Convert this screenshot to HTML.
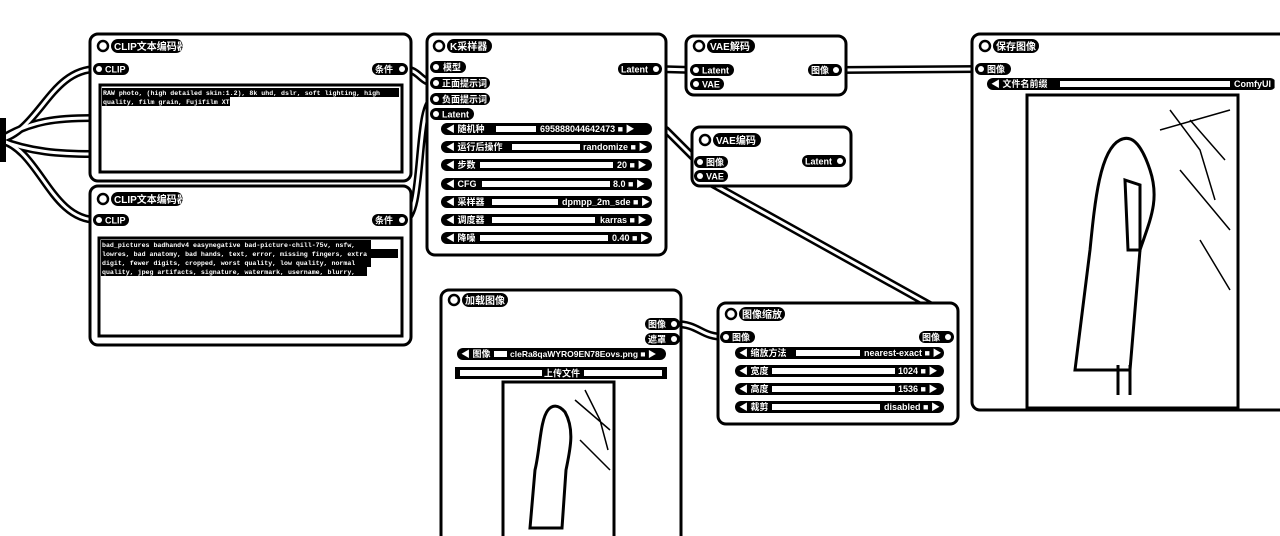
<!DOCTYPE html>
<html><head><meta charset="utf-8"><style>
html,body{margin:0;padding:0;background:#fff;width:1280px;height:536px;overflow:hidden}
svg{display:block}
text{font-family:"Liberation Sans","Noto Sans CJK SC",sans-serif;font-weight:bold}
</style></head><body>
<svg width="1280" height="536" viewBox="0 0 1280 536" xmlns="http://www.w3.org/2000/svg">
<!-- links -->
<g fill="none" stroke-linecap="round">
<g stroke="#000" stroke-width="8">
<path d="M0 140 C40 130,50 69,97 69"/>
<path d="M0 140 C40 150,50 220,97 220"/>
<path d="M0 140 C30 120,60 118,92 118"/>
<path d="M0 140 C30 152,60 154,92 154"/>
<path d="M403 69 C420 69,420 83,435 83"/>
<path d="M403 220 C425 220,415 99,435 99"/>
<path d="M657 69 L693 70"/>
<path d="M838 70 L980 69"/>
<path d="M675 324 C700 324,700 337,725 337"/>
<path d="M698 176 L930 305 C955 315,958 325,952 340"/>
<path d="M666 130 L698 162"/>
</g>
<g stroke="#fff" stroke-width="3">
<path d="M0 140 C40 130,50 69,97 69"/>
<path d="M0 140 C40 150,50 220,97 220"/>
<path d="M0 140 C30 120,60 118,92 118"/>
<path d="M0 140 C30 152,60 154,92 154"/>
<path d="M403 69 C420 69,420 83,435 83"/>
<path d="M403 220 C425 220,415 99,435 99"/>
<path d="M657 69 L693 70"/>
<path d="M838 70 L980 69"/>
<path d="M675 324 C700 324,700 337,725 337"/>
<path d="M698 176 L930 305 C955 315,958 325,952 340"/>
<path d="M666 130 L698 162"/>
</g>
</g>
<rect x="0" y="118" width="6" height="44" fill="#000"/>

<!-- nodes -->
<g fill="#fff" stroke="#000" stroke-width="3">
<rect x="90" y="34" width="321" height="147" rx="8"/>
<rect x="90" y="186" width="321" height="159" rx="8"/>
<rect x="427" y="34" width="239" height="221" rx="8"/>
<rect x="686" y="36" width="160" height="59" rx="8"/>
<rect x="692" y="127" width="159" height="59" rx="8"/>
<rect x="441" y="290" width="240" height="260" rx="8"/>
<rect x="718" y="303" width="240" height="121" rx="8"/>
<rect x="972" y="34" width="320" height="376" rx="8"/>
</g>

<g font-size="9" fill="#fff">
<g font-size="10">
<circle cx="103" cy="46" r="5" fill="#fff" stroke="#000" stroke-width="2.5"/><rect x="111" y="39" width="72" height="14" rx="7" fill="#000"/><text x="114" y="50">CLIP文本编码器</text>
<circle cx="103" cy="199" r="5" fill="#fff" stroke="#000" stroke-width="2.5"/><rect x="111" y="192" width="72" height="14" rx="7" fill="#000"/><text x="114" y="203">CLIP文本编码器</text>
<circle cx="439" cy="46" r="5" fill="#fff" stroke="#000" stroke-width="2.5"/><rect x="447" y="39" width="45" height="14" rx="7" fill="#000"/><text x="450" y="50">K采样器</text>
<circle cx="699" cy="46" r="5" fill="#fff" stroke="#000" stroke-width="2.5"/><rect x="707" y="39" width="48" height="14" rx="7" fill="#000"/><text x="710" y="50">VAE解码</text>
<circle cx="705" cy="140" r="5" fill="#fff" stroke="#000" stroke-width="2.5"/><rect x="713" y="133" width="48" height="14" rx="7" fill="#000"/><text x="716" y="144">VAE编码</text>
<circle cx="454" cy="300" r="5" fill="#fff" stroke="#000" stroke-width="2.5"/><rect x="462" y="293" width="46" height="14" rx="7" fill="#000"/><text x="465" y="304">加载图像</text>
<circle cx="731" cy="314" r="5" fill="#fff" stroke="#000" stroke-width="2.5"/><rect x="739" y="307" width="46" height="14" rx="7" fill="#000"/><text x="742" y="318">图像缩放</text>
<circle cx="985" cy="46" r="5" fill="#fff" stroke="#000" stroke-width="2.5"/><rect x="993" y="39" width="46" height="14" rx="7" fill="#000"/><text x="996" y="50">保存图像</text>
</g>
<g>
<rect x="93" y="63" width="36" height="12" rx="6" fill="#000"/><circle cx="99" cy="69" r="3" fill="#fff"/><text x="105" y="72.5">CLIP</text>
<rect x="372" y="63" width="36" height="12" rx="6" fill="#000"/><circle cx="402" cy="69" r="3" fill="#fff"/><text x="375" y="72.5">条件</text>
<rect x="93" y="214" width="36" height="12" rx="6" fill="#000"/><circle cx="99" cy="220" r="3" fill="#fff"/><text x="105" y="223.5">CLIP</text>
<rect x="372" y="214" width="36" height="12" rx="6" fill="#000"/><circle cx="402" cy="220" r="3" fill="#fff"/><text x="375" y="223.5">条件</text>

<rect x="430" y="61" width="36" height="12" rx="6" fill="#000"/><circle cx="436" cy="67" r="3" fill="#fff"/><text x="443" y="70.5">模型</text>
<rect x="430" y="77" width="60" height="12" rx="6" fill="#000"/><circle cx="436" cy="83" r="3" fill="#fff"/><text x="442" y="86.5">正面提示词</text>
<rect x="430" y="93" width="60" height="12" rx="6" fill="#000"/><circle cx="436" cy="99" r="3" fill="#fff"/><text x="442" y="102.5">负面提示词</text>
<rect x="430" y="108" width="44" height="12" rx="6" fill="#000"/><circle cx="436" cy="114" r="3" fill="#fff"/><text x="442" y="117.5">Latent</text>
<rect x="618" y="63" width="44" height="12" rx="6" fill="#000"/><circle cx="656" cy="69" r="3" fill="#fff"/><text x="621" y="72.5">Latent</text>

<rect x="690" y="64" width="44" height="12" rx="6" fill="#000"/><circle cx="696" cy="70" r="3" fill="#fff"/><text x="702" y="73.5">Latent</text>
<rect x="690" y="78" width="34" height="12" rx="6" fill="#000"/><circle cx="696" cy="84" r="3" fill="#fff"/><text x="702" y="87.5">VAE</text>
<rect x="808" y="64" width="34" height="12" rx="6" fill="#000"/><circle cx="836" cy="70" r="3" fill="#fff"/><text x="811" y="73.5">图像</text>

<rect x="694" y="156" width="34" height="12" rx="6" fill="#000"/><circle cx="700" cy="162" r="3" fill="#fff"/><text x="706" y="165.5">图像</text>
<rect x="694" y="170" width="34" height="12" rx="6" fill="#000"/><circle cx="700" cy="176" r="3" fill="#fff"/><text x="706" y="179.5">VAE</text>
<rect x="802" y="155" width="44" height="12" rx="6" fill="#000"/><circle cx="840" cy="161" r="3" fill="#fff"/><text x="805" y="164.5">Latent</text>

<rect x="645" y="318" width="35" height="12" rx="6" fill="#000"/><circle cx="674" cy="324" r="3" fill="#fff"/><text x="648" y="327.5">图像</text>
<rect x="645" y="333" width="35" height="12" rx="6" fill="#000"/><circle cx="674" cy="339" r="3" fill="#fff"/><text x="648" y="342.5">遮罩</text>

<rect x="720" y="331" width="35" height="12" rx="6" fill="#000"/><circle cx="726" cy="337" r="3" fill="#fff"/><text x="732" y="340.5">图像</text>
<rect x="919" y="331" width="35" height="12" rx="6" fill="#000"/><circle cx="948" cy="337" r="3" fill="#fff"/><text x="922" y="340.5">图像</text>

<rect x="975" y="63" width="36" height="12" rx="6" fill="#000"/><circle cx="981" cy="69" r="3" fill="#fff"/><text x="987" y="72.5">图像</text>
</g>

<g>
<g><rect x="441" y="123" width="211" height="12" rx="6" fill="#000"/><rect x="496" y="126" width="40" height="6" fill="#fff"/><text x="446" y="132">◀ 随机种</text><text x="540" y="132">695888044642473 ■ ▶</text></g>
<g><rect x="441" y="141" width="211" height="12" rx="6" fill="#000"/><rect x="512" y="144" width="68" height="6" fill="#fff"/><text x="446" y="150">◀ 运行后操作</text><text x="583" y="150">randomize ■ ▶</text></g>
<g><rect x="441" y="159" width="211" height="12" rx="6" fill="#000"/><rect x="480" y="162" width="133" height="6" fill="#fff"/><text x="446" y="168">◀ 步数</text><text x="617" y="168">20 ■ ▶</text></g>
<g><rect x="441" y="178" width="211" height="12" rx="6" fill="#000"/><rect x="482" y="181" width="128" height="6" fill="#fff"/><text x="446" y="187">◀ CFG</text><text x="613" y="187">8.0 ■ ▶</text></g>
<g><rect x="441" y="196" width="211" height="12" rx="6" fill="#000"/><rect x="492" y="199" width="66" height="6" fill="#fff"/><text x="446" y="205">◀ 采样器</text><text x="562" y="205">dpmpp_2m_sde ■ ▶</text></g>
<g><rect x="441" y="214" width="211" height="12" rx="6" fill="#000"/><rect x="492" y="217" width="103" height="6" fill="#fff"/><text x="446" y="223">◀ 调度器</text><text x="600" y="223">karras ■ ▶</text></g>
<g><rect x="441" y="232" width="211" height="12" rx="6" fill="#000"/><rect x="480" y="235" width="128" height="6" fill="#fff"/><text x="446" y="241">◀ 降噪</text><text x="612" y="241">0.40 ■ ▶</text></g>

<g><rect x="457" y="348" width="209" height="12" rx="6" fill="#000"/><rect x="494" y="351" width="13" height="6" fill="#fff"/><text x="461" y="357">◀ 图像</text><text x="510" y="357" font-size="8.5">cleRa8qaWYRO9EN78Eovs.png ■ ▶</text></g>
<g><rect x="455" y="367" width="212" height="12" fill="#000"/><rect x="460" y="370" width="82" height="6" fill="#fff"/><rect x="584" y="370" width="78" height="6" fill="#fff"/><text x="544" y="376.5">上传文件</text></g>

<g><rect x="735" y="347" width="209" height="12" rx="6" fill="#000"/><rect x="796" y="350" width="64" height="6" fill="#fff"/><text x="739" y="356">◀ 缩放方法</text><text x="864" y="356">nearest-exact ■ ▶</text></g>
<g><rect x="735" y="365" width="209" height="12" rx="6" fill="#000"/><rect x="772" y="368" width="123" height="6" fill="#fff"/><text x="739" y="374">◀ 宽度</text><text x="898" y="374">1024 ■ ▶</text></g>
<g><rect x="735" y="383" width="209" height="12" rx="6" fill="#000"/><rect x="772" y="386" width="123" height="6" fill="#fff"/><text x="739" y="392">◀ 高度</text><text x="898" y="392">1536 ■ ▶</text></g>
<g><rect x="735" y="401" width="209" height="12" rx="6" fill="#000"/><rect x="772" y="404" width="108" height="6" fill="#fff"/><text x="739" y="410">◀ 裁剪</text><text x="884" y="410">disabled ■ ▶</text></g>

<g><rect x="987" y="78" width="289" height="12" rx="6" fill="#000"/><rect x="1060" y="81" width="170" height="6" fill="#fff"/><text x="991" y="87">◀ 文件名前缀</text><text x="1234" y="87">ComfyUI ▶</text></g>
</g>
</g>

<g fill="#fff" stroke="#000" stroke-width="3">
<rect x="100" y="85" width="302" height="87"/>
<rect x="99" y="238" width="303" height="98"/>
</g>
<g font-size="6.6">
<rect x="102" y="88" width="297" height="9" fill="#000"/><rect x="102" y="97" width="128" height="9" fill="#000"/>
<text x="103" y="95" fill="#fff" style="font-family:'Liberation Mono',monospace">RAW photo, (high detailed skin:1.2), 8k uhd, dslr, soft lighting, high</text>
<text x="103" y="104" fill="#fff" style="font-family:'Liberation Mono',monospace">quality, film grain, Fujifilm XT3,</text>
<rect x="101" y="240" width="270" height="9" fill="#000"/><rect x="101" y="249" width="297" height="9" fill="#000"/><rect x="101" y="258" width="270" height="9" fill="#000"/><rect x="101" y="267" width="266" height="9" fill="#000"/>
<text x="102" y="247" fill="#fff" style="font-family:'Liberation Mono',monospace">bad_pictures badhandv4 easynegative bad-picture-chill-75v, nsfw,</text>
<text x="102" y="256" fill="#fff" style="font-family:'Liberation Mono',monospace">lowres, bad anatomy, bad hands, text, error, missing fingers, extra</text>
<text x="102" y="265" fill="#fff" style="font-family:'Liberation Mono',monospace">digit, fewer digits, cropped, worst quality, low quality, normal</text>
<text x="102" y="274" fill="#fff" style="font-family:'Liberation Mono',monospace">quality, jpeg artifacts, signature, watermark, username, blurry,</text>
</g>

<g fill="#fff" stroke="#000" stroke-width="3">
<rect x="503" y="382" width="111" height="160"/>
<rect x="1027" y="95" width="211" height="313"/>
</g>
<g fill="none" stroke="#000" stroke-width="3">
<path d="M1120 140 C1100 150,1095 200,1090 250 L1075 370 L1130 370 L1140 250 C1150 220,1160 200,1150 170 C1140 140,1130 135,1120 140 Z"/>
<path d="M1118 365 L1118 395 M1130 365 L1130 395"/>
<path d="M1125 180 L1140 185 L1140 250 L1128 250 Z"/>
<path d="M548 410 C540 420,540 450,535 470 L530 528 L562 528 L566 470 C570 450,575 430,565 412 C558 404,552 405,548 410 Z"/>
</g>
<g stroke="#000" stroke-width="1.5" fill="none">
<path d="M1170 110 L1200 150 L1215 200 M1190 120 L1225 160 M1180 170 L1230 230 M1200 240 L1230 290 M1160 130 L1230 110"/>
<path d="M585 390 L600 420 L608 450 M575 400 L610 430 M580 440 L610 470"/>
</g>
</svg>
</body></html>
